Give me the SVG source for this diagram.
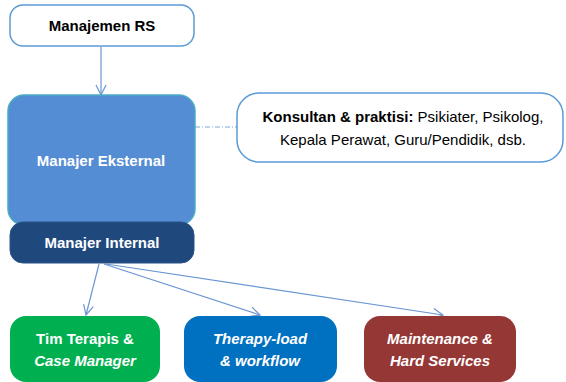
<svg xmlns="http://www.w3.org/2000/svg" width="566" height="382" viewBox="0 0 566 382">
<style>
text{font-family:"Liberation Sans",Arial,sans-serif;font-size:15px;text-anchor:middle}
.b{font-weight:bold}
.w{fill:#fff;font-weight:bold}
.i{font-style:italic}
.outline{fill:#fff;stroke:#5B9BD5;stroke-width:1.5}
.conn{stroke:#6A96D2;stroke-width:1.2;fill:none;marker-end:url(#ah)}
</style>
<defs>
<marker id="ah" viewBox="0 0 12 12" refX="11" refY="6" markerWidth="12" markerHeight="12" markerUnits="userSpaceOnUse" orient="auto">
<path d="M1,1 L11,6 L1,11" fill="none" stroke="#6A96D2" stroke-width="1.2"/>
</marker>
</defs>
<rect width="566" height="382" fill="#fff"/>
<g id="connectors">
<line class="conn" x1="101" y1="47" x2="101" y2="95"/>
<line x1="195" y1="127" x2="237" y2="127" stroke="#7FA7D8" stroke-width="1" stroke-dasharray="5,2,1,2"/>
<line class="conn" x1="99" y1="264" x2="86" y2="315"/>
<line class="conn" x1="104" y1="264" x2="260" y2="315"/>
<line class="conn" x1="106" y1="264" x2="443" y2="315"/>
</g>
<g id="manajemen-rs">
<rect class="outline" x="10" y="5" width="184" height="41" rx="13"/>
<text class="b" x="102" y="31">Manajemen RS</text>
</g>
<g id="manajer-eksternal">
<rect x="8" y="95" width="187" height="130" rx="16" fill="#548DD4" stroke="#4BACC6" stroke-width="1.5"/>
<text class="w" x="101" y="166">Manajer Eksternal</text>
</g>
<g id="manajer-internal">
<rect x="10" y="222" width="184" height="41" rx="13" fill="#1F497D" stroke="#2A5288" stroke-width="1"/>
<text class="w" x="102" y="248">Manajer Internal</text>
</g>
<g id="konsultan">
<rect class="outline" x="237" y="93" width="326" height="69" rx="22"/>
<text x="403" y="122"><tspan class="b">Konsultan &amp; praktisi:</tspan> Psikiater, Psikolog,</text>
<text x="403" y="145">Kepala Perawat, Guru/Pendidik, dsb.</text>
</g>
<g id="tim-terapis">
<rect x="10" y="316" width="150" height="66" rx="16" fill="#00B050"/>
<text class="w" x="85" y="344">Tim Terapis &amp;</text>
<text class="w i" x="85" y="366">Case Manager</text>
</g>
<g id="therapy-load">
<rect x="184" y="316" width="153" height="66" rx="16" fill="#0070C0"/>
<text class="w i" x="260" y="344">Therapy-load</text>
<text class="w i" x="260" y="366">&amp; workflow</text>
</g>
<g id="maintenance">
<rect x="364" y="316" width="152" height="66" rx="16" fill="#953735"/>
<text class="w i" x="440" y="344">Maintenance &amp;</text>
<text class="w i" x="440" y="366">Hard Services</text>
</g>
</svg>
